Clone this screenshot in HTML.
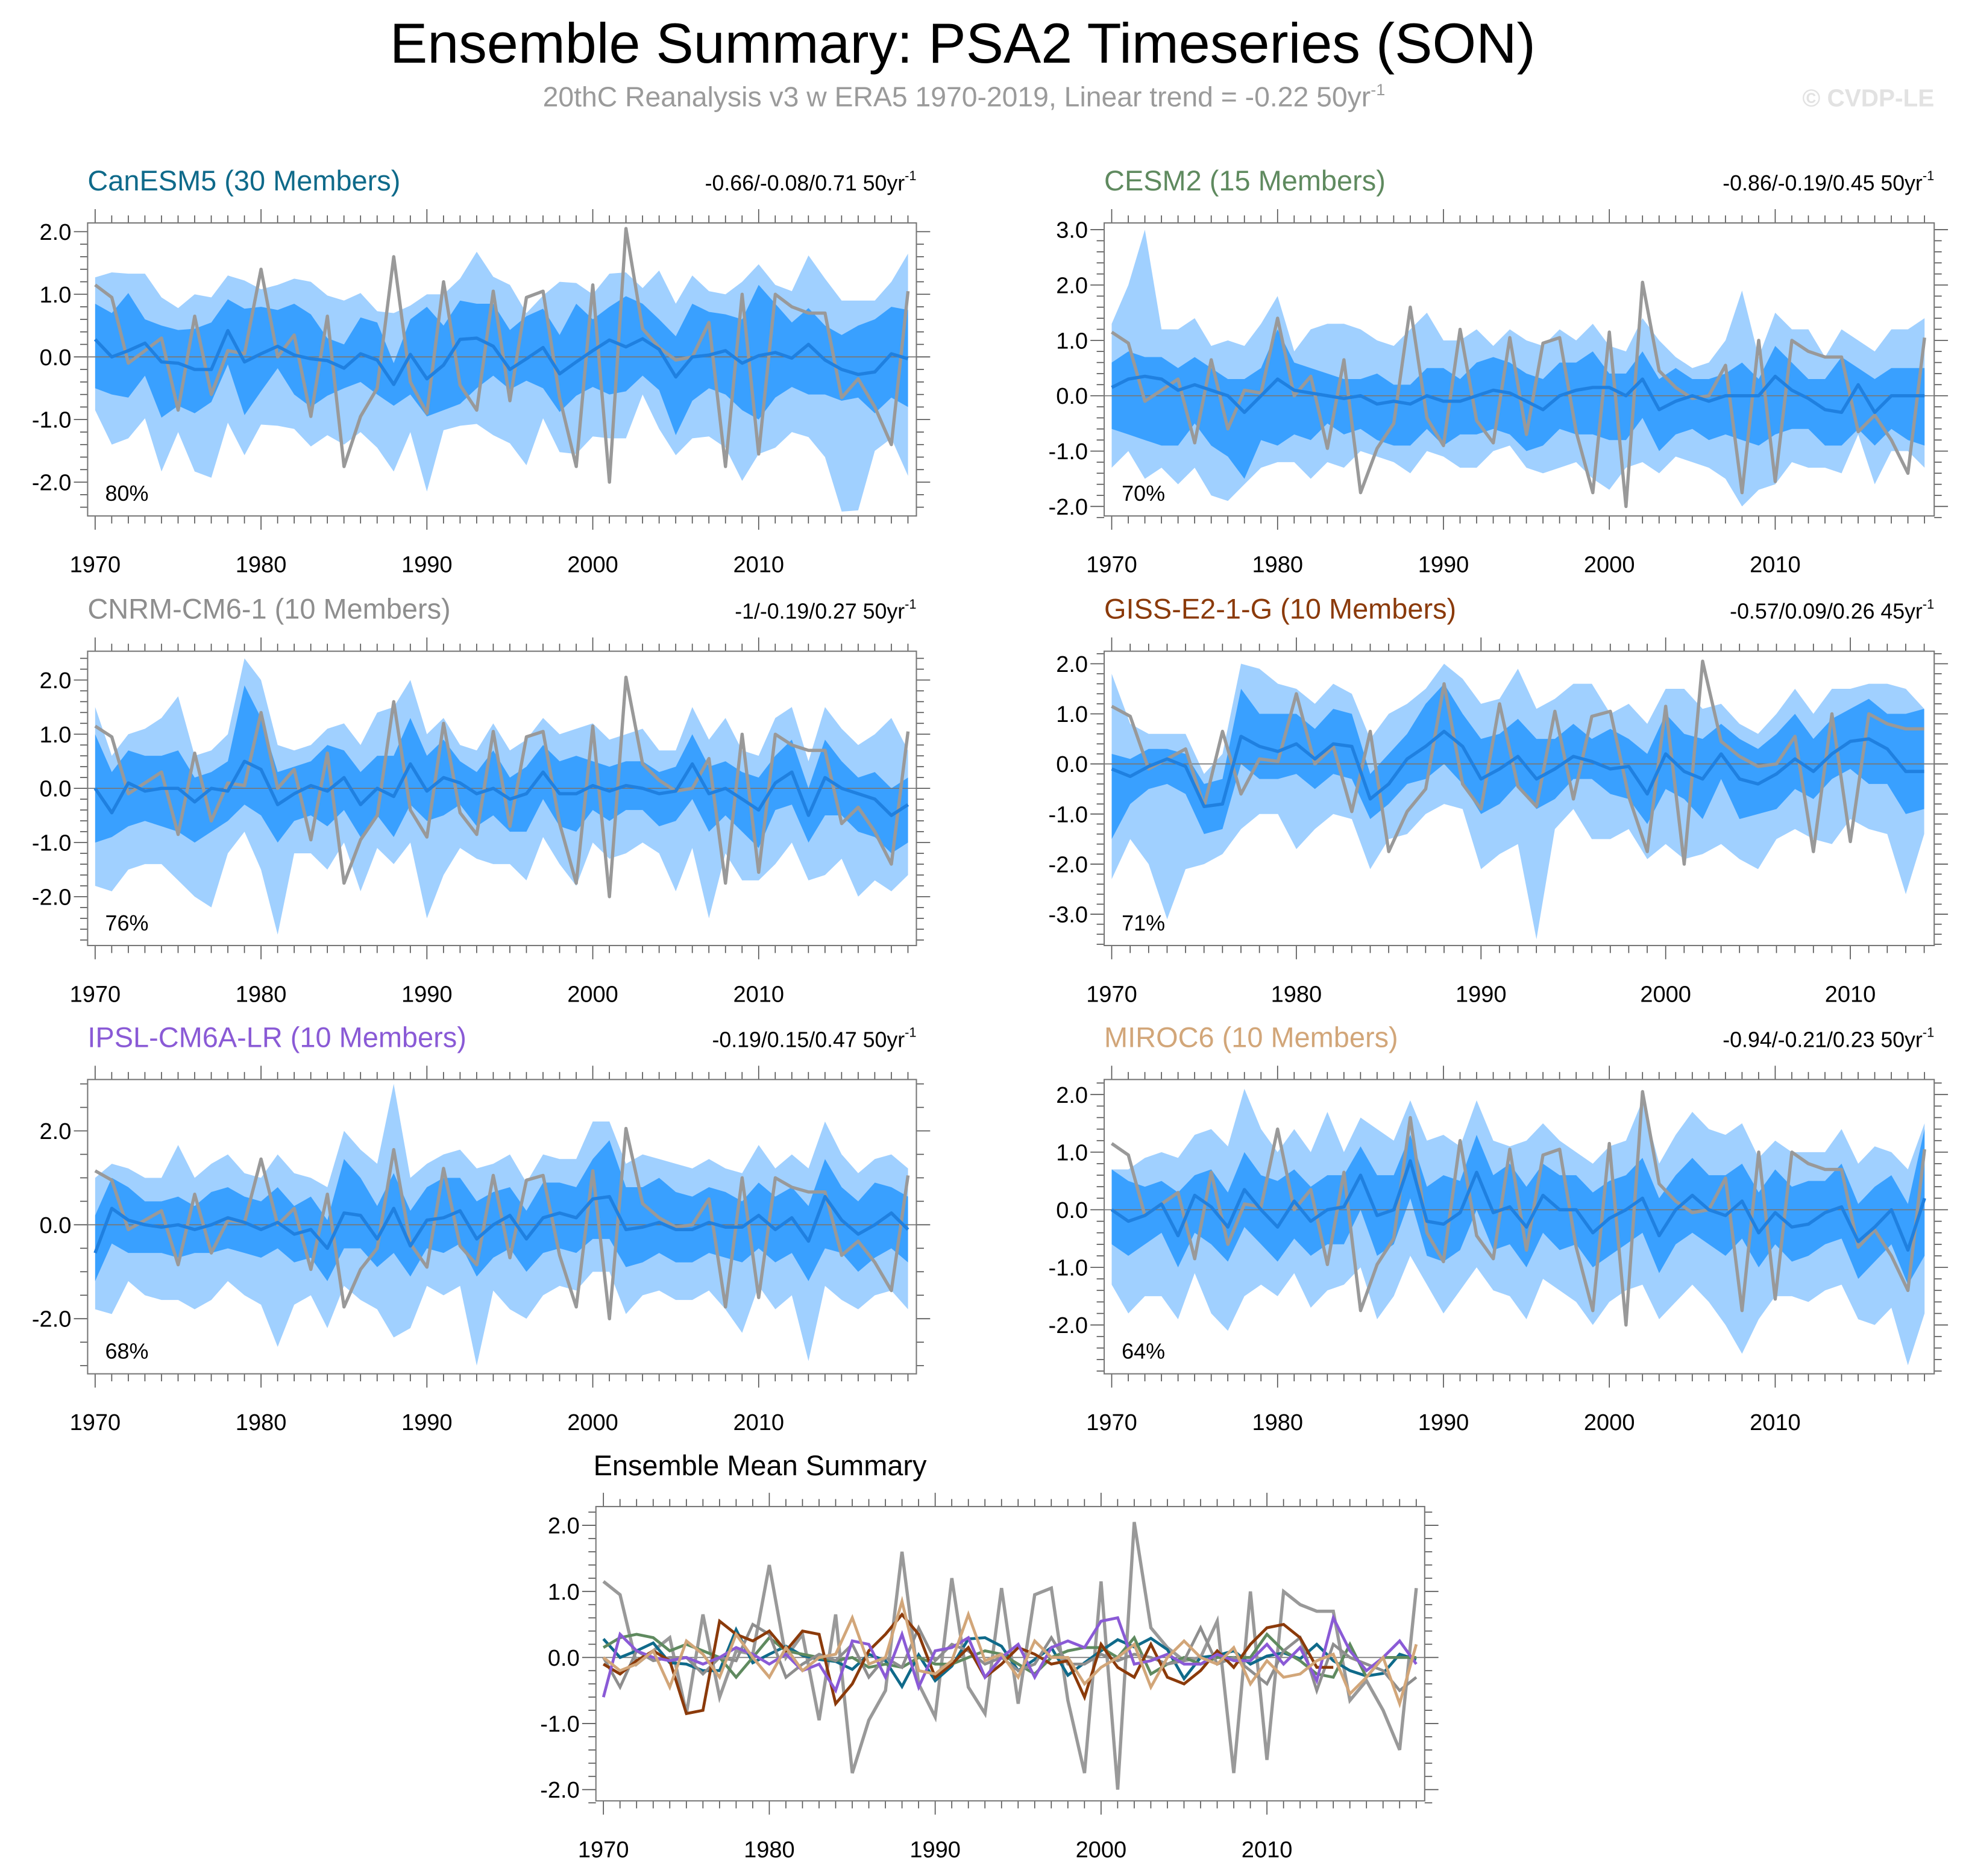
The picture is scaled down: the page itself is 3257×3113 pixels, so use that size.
<!DOCTYPE html>
<html><head><meta charset="utf-8"><title>Ensemble Summary: PSA2 Timeseries (SON)</title>
<style>html,body{margin:0;padding:0;background:#fff}svg{display:block}text{font-family:"Liberation Sans",Arial,sans-serif}</style>
</head><body>
<svg id="fig" xmlns="http://www.w3.org/2000/svg" width="3257" height="3113" viewBox="0 0 1568 1498" preserveAspectRatio="none">
<text x="769" y="50" font-size="45" text-anchor="middle" fill="#000">Ensemble Summary: PSA2 Timeseries (SON)</text>
<text x="770" y="85" font-size="22.3" text-anchor="middle" fill="#9a9a9a">20thC Reanalysis v3 w ERA5 1970-2019, Linear trend = -0.22 50yr<tspan dy="-9" font-size="13">-1</tspan></text>
<text x="1545" y="85" font-size="19.5" font-weight="bold" text-anchor="end" fill="#e2e2e2">© CVDP-LE</text>
<g id="panels"></g>
</svg>
<script>
const years = [];
for (let y = 1970; y <= 2019; y++) years.push(y);
const obs = [1.15,0.95,-0.1,0.1,0.3,-0.85,0.65,-0.6,0.1,0.05,1.4,0.0,0.35,-0.95,0.65,-1.75,-0.95,-0.5,1.6,-0.4,-0.9,1.2,-0.45,-0.85,1.05,-0.7,0.95,1.05,-0.65,-1.75,1.15,-2.0,2.05,0.45,0.15,-0.05,0.0,0.55,-1.75,1.0,-1.55,1.0,0.8,0.7,0.7,-0.65,-0.35,-0.8,-1.4,1.05];

const canMean = [0.28,0.0,0.1,0.22,-0.08,-0.1,-0.2,-0.2,0.42,-0.08,0.05,0.17,0.03,-0.03,-0.06,-0.18,0.05,-0.05,-0.44,0.04,-0.35,-0.13,0.28,0.3,0.17,-0.2,-0.03,0.15,-0.27,-0.08,0.1,0.27,0.16,0.29,0.12,-0.32,0.0,0.03,0.1,-0.1,0.02,0.07,-0.02,0.2,-0.05,-0.2,-0.28,-0.24,0.05,-0.03];
const canDarkHi = [0.85,0.7,1.02,0.6,0.5,0.43,0.45,0.55,0.92,0.77,0.8,0.75,0.85,0.68,0.3,0.2,0.63,0.55,-0.1,0.6,0.8,0.5,0.9,0.85,0.85,0.43,0.65,0.77,0.35,0.85,0.6,0.8,0.97,0.85,0.6,0.33,0.85,0.72,0.68,0.6,1.15,0.85,0.55,0.78,0.5,0.35,0.5,0.6,0.8,0.75];
const canDarkLo = [-0.5,-0.6,-0.65,-0.3,-0.97,-0.78,-0.9,-0.72,-0.12,-0.93,-0.55,-0.18,-0.6,-0.8,-0.62,-0.5,-0.4,-0.6,-0.78,-0.6,-0.95,-0.85,-0.75,-0.5,-0.3,-0.52,-0.38,-0.5,-0.88,-0.62,-0.48,-0.6,-0.55,-0.3,-0.53,-1.25,-0.7,-0.5,-0.6,-0.85,-1.0,-0.65,-0.48,-0.6,-0.6,-0.7,-0.65,-0.9,-0.65,-0.8];
const canLightHi = [1.27,1.35,1.33,1.33,0.95,0.78,1.0,0.95,1.3,1.22,1.08,1.15,1.25,1.2,0.98,0.9,1.02,0.73,0.7,0.82,1.0,1.0,1.25,1.68,1.28,1.15,0.7,0.98,1.2,1.18,1.0,1.33,1.35,1.1,1.38,0.85,1.3,1.05,1.0,1.2,1.48,1.15,1.05,1.62,1.25,0.9,0.9,0.9,1.2,1.65];
const canLightLo = [-0.85,-1.4,-1.3,-0.98,-1.83,-1.2,-1.83,-1.93,-1.05,-1.57,-1.08,-1.1,-1.15,-1.43,-1.25,-1.4,-1.2,-1.45,-1.83,-1.2,-2.15,-1.17,-1.1,-1.07,-1.25,-1.38,-1.73,-0.98,-1.52,-1.55,-1.27,-1.3,-1.3,-0.6,-1.15,-1.57,-1.3,-1.27,-1.45,-1.98,-1.55,-1.45,-1.2,-1.28,-1.6,-2.47,-2.45,-1.5,-1.3,-1.9];

const cesmMean = [0.15,0.3,0.35,0.3,0.1,0.2,0.1,0.0,-0.3,0.0,0.3,0.1,0.05,0.0,-0.05,0.0,-0.15,-0.1,-0.15,0.0,-0.1,-0.1,0.0,0.1,0.05,-0.1,-0.25,0.0,0.1,0.15,0.15,0.0,0.3,-0.25,-0.1,0.0,-0.1,0.0,0.0,0.0,0.35,0.1,-0.05,-0.25,-0.3,0.2,-0.3,0.0,0.0,0.0];
const cesmDarkHi = [0.6,0.8,0.7,0.7,0.5,0.7,0.5,0.3,0.3,0.5,1.2,0.6,0.5,0.4,0.3,0.3,0.4,0.2,0.2,0.5,0.5,0.3,0.6,0.7,0.6,0.4,0.3,0.6,0.6,0.8,0.4,0.4,0.8,0.3,0.5,0.3,0.3,0.4,0.6,0.3,0.9,0.6,0.3,0.3,0.7,0.5,0.3,0.5,0.5,0.5];
const cesmDarkLo = [-0.6,-0.7,-0.8,-0.9,-0.9,-0.5,-0.9,-1.1,-1.5,-0.8,-0.9,-0.7,-0.8,-0.5,-0.7,-0.6,-0.8,-0.9,-0.9,-0.6,-0.9,-0.7,-0.7,-0.6,-0.7,-1.0,-0.9,-0.6,-0.7,-0.7,-0.8,-0.8,-0.4,-1.0,-0.7,-0.6,-0.8,-0.7,-0.8,-0.9,-0.7,-0.6,-0.6,-0.9,-0.9,-0.6,-0.9,-0.6,-0.8,-0.9];
const cesmLightHi = [1.3,2.0,3.0,1.2,1.2,1.4,0.9,1.0,0.9,1.3,1.8,0.8,1.2,1.3,1.3,1.2,1.0,0.9,1.2,1.5,1.0,1.0,1.2,0.9,1.2,1.0,0.9,1.2,1.0,1.3,0.9,0.8,1.4,1.0,0.7,0.5,0.6,1.0,1.9,0.7,1.5,1.2,1.2,0.7,1.2,1.0,0.8,1.2,1.2,1.4];
const cesmLightLo = [-1.3,-1.0,-1.5,-1.3,-1.6,-1.3,-1.8,-1.9,-1.6,-1.3,-1.2,-1.2,-1.5,-1.2,-1.3,-1.0,-1.1,-1.2,-1.4,-1.0,-1.1,-1.3,-1.3,-1.0,-0.9,-1.3,-1.4,-1.3,-1.2,-1.5,-1.7,-1.3,-1.2,-1.4,-1.1,-1.2,-1.3,-1.5,-2.0,-1.7,-1.6,-1.2,-1.3,-1.3,-1.4,-0.7,-1.6,-1.0,-1.0,-1.3];

const cnrmMean = [0.0,-0.45,0.1,-0.05,0.0,0.0,-0.25,0.0,-0.05,0.5,0.35,-0.3,-0.1,0.05,-0.05,0.2,-0.3,0.0,-0.15,0.45,-0.05,0.2,0.1,-0.1,0.0,-0.2,-0.1,0.3,-0.1,-0.1,0.05,-0.05,0.05,0.0,-0.1,-0.05,0.45,-0.1,0.0,-0.2,-0.4,0.1,0.3,-0.5,0.2,0.0,-0.1,-0.2,-0.5,-0.3];
const cnrmDarkHi = [1.0,0.3,0.7,0.6,0.6,0.7,0.2,0.3,0.5,1.9,1.3,0.3,0.4,0.5,0.8,0.7,0.3,0.6,0.6,1.3,0.6,0.9,0.5,0.3,0.7,0.2,0.4,0.8,0.5,0.6,0.5,0.4,0.5,0.5,0.3,0.4,1.0,0.4,0.5,0.3,0.2,0.6,0.9,0.0,0.9,0.5,0.2,0.3,0.0,0.2];
const cnrmDarkLo = [-1.0,-0.9,-0.7,-0.6,-0.7,-0.8,-1.0,-0.8,-0.6,-0.3,-0.5,-1.0,-0.6,-0.5,-0.7,-0.4,-0.9,-0.5,-0.9,-0.3,-0.6,-0.5,-0.3,-0.7,-0.5,-0.8,-0.8,-0.2,-0.7,-0.8,-0.4,-0.6,-0.4,-0.4,-0.7,-0.6,-0.2,-0.8,-0.5,-0.8,-1.1,-0.4,-0.3,-1.0,-0.5,-0.5,-0.8,-0.9,-1.2,-1.0];
const cnrmLightHi = [1.5,0.6,1.0,1.1,1.3,1.7,0.6,0.7,1.0,2.4,2.0,0.8,0.7,0.8,1.1,1.2,0.8,1.4,1.5,2.0,1.0,1.3,0.8,0.7,1.2,0.7,0.9,1.3,1.0,1.1,1.2,0.9,1.0,1.1,0.7,0.7,1.5,0.9,1.3,0.7,0.6,1.3,1.5,0.5,1.5,1.1,0.8,1.0,1.3,0.7];
const cnrmLightLo = [-1.8,-1.9,-1.5,-1.4,-1.4,-1.7,-2.0,-2.2,-1.2,-0.8,-1.5,-2.7,-1.2,-1.2,-1.5,-1.0,-1.9,-1.1,-1.4,-1.0,-2.4,-1.6,-1.1,-1.3,-1.4,-1.4,-1.7,-0.9,-1.4,-1.8,-1.0,-1.3,-1.2,-1.0,-1.2,-1.9,-1.1,-2.4,-1.2,-1.7,-1.7,-1.4,-1.0,-1.7,-1.6,-1.3,-2.0,-1.7,-1.9,-1.6];

const gissMean = [-0.1,-0.25,-0.05,0.1,-0.05,-0.85,-0.8,0.55,0.35,0.25,0.4,0.1,0.4,0.35,-0.7,-0.4,0.1,0.35,0.65,0.35,-0.3,-0.1,0.15,-0.3,-0.1,0.15,0.05,-0.1,-0.05,-0.6,0.2,-0.15,-0.3,0.2,-0.3,-0.4,-0.2,0.1,-0.15,0.2,0.45,0.5,0.3,-0.15,-0.15];
const gissDarkHi = [0.2,0.1,0.3,0.3,0.2,-0.4,-0.3,1.5,1.0,1.0,1.0,0.7,1.1,1.0,-0.2,0.2,0.6,1.2,1.6,1.0,0.5,0.6,0.9,0.5,0.5,0.8,0.5,0.7,0.5,0.2,1.0,0.6,0.5,0.8,0.5,0.3,0.6,1.0,0.5,0.9,1.1,1.3,1.0,1.0,1.1];
const gissDarkLo = [-1.5,-0.8,-0.5,-0.4,-0.6,-1.4,-1.3,0.0,-0.3,-0.3,-0.2,-0.5,-0.2,-0.3,-1.1,-0.8,-0.4,-0.3,0.0,-0.4,-1.0,-0.8,-0.4,-0.9,-0.7,-0.3,-0.3,-0.6,-0.7,-1.2,-0.5,-0.7,-1.1,-0.3,-1.1,-1.0,-0.9,-0.5,-0.7,-0.3,-0.1,-0.4,-0.4,-1.0,-0.9];
const gissLightHi = [1.8,0.8,0.6,0.6,0.6,-0.2,0.2,2.0,1.9,1.6,1.5,1.2,1.6,1.4,0.5,1.0,1.2,1.5,2.0,1.7,1.2,1.3,1.9,1.1,1.3,1.6,1.6,1.0,1.2,0.8,1.5,1.5,1.1,1.2,0.8,0.6,1.0,1.5,1.0,1.5,1.5,1.6,1.6,1.5,1.1];
const gissLightLo = [-2.3,-1.5,-2.0,-3.1,-2.1,-2.0,-1.8,-1.3,-1.0,-1.0,-1.7,-1.3,-1.0,-1.1,-2.1,-1.5,-1.4,-1.0,-0.8,-0.9,-2.1,-1.8,-1.6,-3.5,-1.3,-0.9,-1.5,-1.5,-1.3,-1.9,-1.6,-1.9,-1.8,-1.6,-1.9,-2.1,-1.5,-1.3,-1.5,-1.6,-1.1,-1.3,-1.4,-2.6,-1.4];

const ipslMean = [-0.6,0.35,0.1,0.0,-0.05,0.0,-0.1,0.0,0.15,0.05,-0.1,0.05,-0.2,-0.1,-0.5,0.25,0.2,-0.3,0.35,-0.45,0.1,0.15,0.3,-0.3,0.0,0.2,-0.3,0.15,0.25,0.15,0.55,0.6,-0.1,-0.05,0.05,-0.1,-0.1,0.05,-0.05,-0.05,0.2,-0.1,0.15,-0.35,0.6,0.1,-0.2,0.0,0.25,-0.1];
const ipslDarkHi = [0.2,1.0,0.8,0.5,0.5,0.6,0.4,0.7,0.8,0.6,0.5,0.8,0.4,0.6,0.1,1.4,1.0,0.4,1.1,0.3,0.8,1.0,1.0,0.5,0.7,0.8,0.3,0.9,0.9,0.8,1.4,1.8,0.8,0.8,1.0,0.7,0.6,0.8,0.7,0.5,0.9,0.6,0.8,0.4,1.4,0.8,0.5,0.9,0.8,0.6];
const ipslDarkLo = [-1.2,-0.4,-0.6,-0.6,-0.6,-0.7,-0.6,-0.6,-0.5,-0.6,-0.7,-0.5,-0.8,-0.7,-1.2,-0.5,-0.5,-0.9,-0.6,-1.1,-0.5,-0.6,-0.4,-1.1,-0.7,-0.5,-1.0,-0.6,-0.5,-0.6,-0.3,-0.3,-0.9,-0.8,-0.6,-0.8,-0.8,-0.6,-0.7,-0.8,-0.5,-0.8,-0.6,-1.2,-0.5,-0.6,-1.0,-0.7,-0.5,-0.8];
const ipslLightHi = [1.0,1.3,1.2,1.0,1.0,1.7,1.0,1.3,1.5,1.1,1.0,1.5,1.1,1.0,0.8,2.0,1.6,1.3,3.0,1.0,1.3,1.5,1.6,1.2,1.3,1.5,0.9,1.5,1.4,1.4,2.2,2.2,1.3,1.5,1.4,1.3,1.2,1.4,1.2,1.1,1.7,1.2,1.5,1.2,2.2,1.5,1.1,1.4,1.5,1.2];
const ipslLightLo = [-1.8,-1.9,-1.2,-1.5,-1.6,-1.6,-1.8,-1.6,-1.2,-1.5,-1.7,-2.6,-1.7,-1.5,-2.2,-1.3,-1.6,-1.8,-2.4,-2.2,-1.3,-1.5,-1.3,-3.0,-1.4,-1.8,-2.0,-1.5,-1.3,-1.4,-1.0,-1.0,-1.9,-1.5,-1.4,-1.6,-1.6,-1.4,-1.8,-2.3,-1.3,-1.8,-1.5,-2.9,-1.3,-1.6,-1.8,-1.5,-1.4,-1.8];

const mirocMean = [0.0,-0.2,-0.1,0.1,-0.45,0.25,0.05,-0.3,0.35,0.0,-0.3,0.15,-0.2,0.0,0.05,0.6,-0.1,0.0,0.85,-0.2,-0.25,-0.05,0.65,-0.05,0.05,-0.3,0.25,0.0,0.0,-0.4,-0.15,0.0,0.2,-0.45,0.0,0.25,0.0,-0.1,0.15,-0.4,-0.05,-0.3,-0.25,-0.05,0.05,-0.55,-0.3,0.0,-0.7,0.2];
const mirocDarkHi = [0.7,0.5,0.4,0.5,0.3,0.6,0.7,0.3,1.0,0.6,0.5,0.7,0.4,0.6,0.6,1.1,0.6,0.6,1.3,0.4,0.6,0.5,1.3,0.6,0.8,0.4,0.8,0.6,0.6,0.3,0.5,0.6,0.9,0.2,0.6,0.9,0.6,0.6,0.8,0.3,0.7,0.4,0.5,0.5,0.8,0.1,0.4,0.6,0.1,1.4];
const mirocDarkLo = [-0.6,-0.8,-0.6,-0.4,-1.0,-0.4,-0.6,-0.9,-0.3,-0.6,-0.9,-0.5,-0.8,-0.6,-0.6,0.0,-0.8,-0.6,0.2,-0.8,-0.9,-0.7,0.0,-0.7,-0.6,-1.0,-0.4,-0.7,-0.6,-1.0,-0.8,-0.6,-0.4,-1.1,-0.6,-0.4,-0.6,-0.8,-0.5,-1.0,-0.6,-0.9,-0.8,-0.6,-0.5,-1.2,-0.9,-0.6,-1.3,-0.8];
const mirocLightHi = [0.7,0.7,0.9,1.0,0.9,1.3,1.4,1.1,2.1,1.4,1.0,1.4,1.0,1.7,1.0,1.6,1.4,1.2,1.9,1.2,1.3,1.1,1.9,1.2,1.1,1.2,1.5,1.2,1.0,0.8,1.1,1.2,1.9,0.8,1.3,1.7,1.4,1.3,1.5,0.9,1.2,1.0,1.0,1.0,1.4,0.8,1.1,1.0,0.7,1.5];
const mirocLightLo = [-1.3,-1.8,-1.5,-1.5,-1.9,-1.1,-1.8,-2.1,-1.5,-1.3,-1.5,-1.1,-1.7,-1.4,-1.3,-1.0,-1.9,-1.5,-0.8,-1.3,-1.8,-1.4,-1.0,-1.4,-1.5,-1.9,-1.2,-1.4,-1.6,-2.0,-1.6,-1.4,-1.3,-1.9,-1.6,-1.3,-1.6,-2.0,-2.5,-1.9,-1.5,-1.5,-1.6,-1.4,-1.3,-1.9,-2.0,-1.7,-2.7,-1.8];

const modelNames = ["CanESM5 (30 Members)","CESM2 (15 Members)","CNRM-CM6-1 (10 Members)","GISS-E2-1-G (10 Members)","IPSL-CM6A-LR (10 Members)","MIROC6 (10 Members)"];
const trendLabels = ["-0.66/-0.08/0.71 50yr","-0.86/-0.19/0.45 50yr","-1/-0.19/0.27 50yr","-0.57/0.09/0.26 45yr","-0.19/0.15/0.47 50yr","-0.94/-0.21/0.23 50yr"];
const pctLabels = ["80%","70%","76%","71%","68%","64%"];
const xTickLabels = [1970,1980,1990,2000,2010];

const NS = "http://www.w3.org/2000/svg";
const root = document.getElementById("panels");
function mk(tag, attrs, parent) {
  const e = document.createElementNS(NS, tag);
  for (const k in attrs) e.setAttribute(k, attrs[k]);
  (parent || root).appendChild(e);
  return e;
}
const modelColors = ["#0f6a8a","#5f8a5f","#8e8e8e","#8b3a0a","#8a5ad6","#d2a679"];
const layouts = [
  {x0:70,x1:732,y0:178,y1:412,xs:76,xk:13.25,yz:285,yk:50,ymin:-2.54,ymax:2.14,major:[-2,-1,0,1,2],minor:0.2,ty:152},
  {x0:882,x1:1545,y0:178,y1:412,xs:888,xk:13.25,yz:316,yk:44.2,ymin:-2.2,ymax:3.1,major:[-2,-1,0,1,2,3],minor:0.2,ty:152},
  {x0:70,x1:732,y0:520,y1:755,xs:76,xk:13.25,yz:629.5,yk:43.25,ymin:-2.9,ymax:2.5,major:[-2,-1,0,1,2],minor:0.2,ty:494},
  {x0:882,x1:1545,y0:520,y1:755,xs:888,xk:14.75,yz:610,yk:40,ymin:-3.6,ymax:2.2,major:[-3,-2,-1,0,1,2],minor:0.2,ty:494},
  {x0:70,x1:732,y0:862,y1:1097,xs:76,xk:13.25,yz:978,yk:37.5,ymin:-3.1,ymax:3.1,major:[-2,0,2],minor:0.5,ty:836},
  {x0:882,x1:1545,y0:862,y1:1097,xs:888,xk:13.25,yz:966,yk:46,ymin:-2.85,ymax:2.2,major:[-2,-1,0,1,2],minor:0.2,ty:836},
  {x0:476,x1:1138,y0:1203,y1:1438,xs:482,xk:13.25,yz:1323.5,yk:52.75,ymin:-2.2,ymax:2.3,major:[-2,-1,0,1,2],minor:0.2,ty:1178}
];
const modelData = [
  [canMean,canDarkHi,canDarkLo,canLightHi,canLightLo],
  [cesmMean,cesmDarkHi,cesmDarkLo,cesmLightHi,cesmLightLo],
  [cnrmMean,cnrmDarkHi,cnrmDarkLo,cnrmLightHi,cnrmLightLo],
  [gissMean,gissDarkHi,gissDarkLo,gissLightHi,gissLightLo],
  [ipslMean,ipslDarkHi,ipslDarkLo,ipslLightHi,ipslLightLo],
  [mirocMean,mirocDarkHi,mirocDarkLo,mirocLightHi,mirocLightLo]
];

function drawAxes(L, g, n) {
  const X = yr => L.xs + (yr - 1970) * L.xk;
  const Y = v => L.yz - v * L.yk;
  const clipId = "clip" + n;
  const cp = mk("clipPath", {id: clipId}, g);
  mk("rect", {x:L.x0, y:L.y0, width:L.x1-L.x0, height:L.y1-L.y0}, cp);
  const lastYear = Math.floor(1970 + (L.x1 - L.xs) / L.xk);
  for (let yr = 1970; yr <= lastYear; yr++) {
    const maj = (yr % 10 === 0), len = maj ? 11 : 6, x = X(yr);
    const t1 = mk("line", {x1:x, x2:x, y1:L.y0, y2:L.y0-len, stroke:"#555", "stroke-width":0.8}, g);
    
    
    const t2 = mk("line", {x1:x, x2:x, y1:L.y1, y2:L.y1+len, stroke:"#555", "stroke-width":0.8}, g);
    
    
  }
  xTickLabels.forEach(yr => {
    if (X(yr) > L.x1) return;
    const t = mk("text", {x:X(yr), y:L.y1+45, "font-size":18.3, "text-anchor":"middle", fill:"#000"}, g);
    t.textContent = yr;
    
    
  });
  const s = Math.ceil(L.ymin / L.minor), e = Math.floor(L.ymax / L.minor);
  for (let i = s; i <= e; i++) {
    const v = i * L.minor;
    const maj = L.major.some(m => Math.abs(m - v) < 1e-6);
    const len = maj ? 11 : 6, y = Y(v);
    mk("line", {x1:L.x0, x2:L.x0-len, y1:y, y2:y, stroke:"#555", "stroke-width":0.8}, g);
    mk("line", {x1:L.x1, x2:L.x1+len, y1:y, y2:y, stroke:"#555", "stroke-width":0.8}, g);
  }
  L.major.forEach(v => {
    const t = mk("text", {x:L.x0-13, y:Y(v)+6.5, "font-size":18.3, "text-anchor":"end", fill:"#000"}, g);
    t.textContent = v.toFixed(1);
    
    
  });
  return {X, Y, clipId};
}

function linePath(arr, X, Y) {
  return arr.map((v, i) => (i ? "L" : "M") + X(1970 + i).toFixed(1) + "," + Y(v).toFixed(1)).join("");
}
function bandPath(hi, lo, X, Y) {
  let d = hi.map((v, i) => (i ? "L" : "M") + X(1970 + i).toFixed(1) + "," + Y(v).toFixed(1)).join("");
  for (let i = lo.length - 1; i >= 0; i--) d += "L" + X(1970 + i).toFixed(1) + "," + Y(lo[i]).toFixed(1);
  return d + "Z";
}

for (let m = 0; m < 6; m++) {
  const L = layouts[m];
  const g = mk("g", {});
  
  
  const title = mk("text", {x:L.x0, y:L.ty, "font-size":22.6, fill:modelColors[m]}, g);
  title.textContent = modelNames[m];
  
  
  const tr = mk("text", {x:L.x1, y:L.ty, "font-size":17.2, "text-anchor":"end", fill:"#000"}, g);
  tr.textContent = trendLabels[m];
  const sup = mk("tspan", {dy:-8, "font-size":10.5}, tr);
  sup.textContent = "-1";
  
  
  const A = drawAxes(L, g, m);
  const [mean, dHi, dLo, lHi, lLo] = modelData[m];
  const cg = mk("g", {"clip-path":"url(#" + A.clipId + ")"}, g);
  const b1 = mk("path", {d:bandPath(lHi, lLo, A.X, A.Y), fill:"#a0d0ff"}, cg);
  
  
  const b2 = mk("path", {d:bandPath(dHi, dLo, A.X, A.Y), fill:"#39a0ff"}, cg);
  
  
  mk("line", {x1:L.x0, x2:L.x1, y1:A.Y(0), y2:A.Y(0), stroke:"#777", "stroke-width":0.8}, cg);
  const ob = mk("path", {d:linePath(obs.slice(0, mean.length), A.X, A.Y), fill:"none", stroke:"#999", "stroke-width":2.6, "stroke-linejoin":"round"}, cg);
  
  
  const ml = mk("path", {d:linePath(mean, A.X, A.Y), fill:"none", stroke:"#1f80e0", "stroke-width":2.6, "stroke-linejoin":"round"}, cg);
  
  
  const bx = mk("rect", {x:L.x0, y:L.y0, width:L.x1-L.x0, height:L.y1-L.y0, fill:"none", stroke:"#777", "stroke-width":1}, g);
  
  
  const pc = mk("text", {x:L.x0+14, y:L.y1-12, "font-size":17.3, fill:"#000"}, g);
  pc.textContent = pctLabels[m];
  
  
}

// Ensemble mean summary panel
{
  const L = layouts[6];
  const g = mk("g", {});
  
  
  const title = mk("text", {x:474, y:L.ty, "font-size":22.6, fill:"#000"}, g);
  title.textContent = "Ensemble Mean Summary";
  
  
  const A = drawAxes(L, g, 6);
  const cg = mk("g", {"clip-path":"url(#" + A.clipId + ")"}, g);
  mk("line", {x1:L.x0, x2:L.x1, y1:A.Y(0), y2:A.Y(0), stroke:"#777", "stroke-width":0.8}, cg);
  const ob = mk("path", {d:linePath(obs, A.X, A.Y), fill:"none", stroke:"#999", "stroke-width":2.6}, cg);
  
  
  for (let m = 0; m < 6; m++) {
    const p = mk("path", {d:linePath(modelData[m][0], A.X, A.Y), fill:"none", stroke:modelColors[m], "stroke-width":2.3}, cg);
    
    
  }
  const bx = mk("rect", {x:L.x0, y:L.y0, width:L.x1-L.x0, height:L.y1-L.y0, fill:"none", stroke:"#777", "stroke-width":1}, g);
  
  
}
</script>
</body></html>
